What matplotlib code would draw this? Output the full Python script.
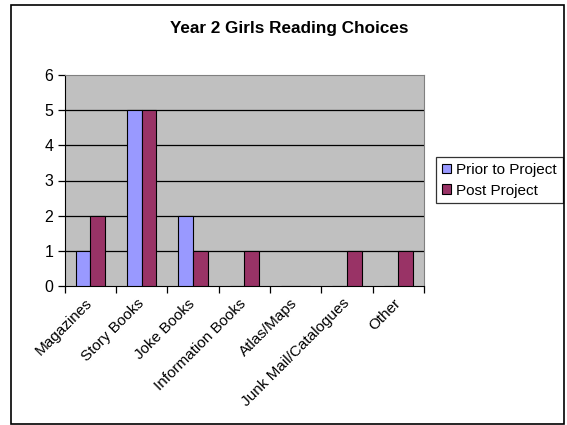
import numpy as np
import matplotlib
matplotlib.use("Agg")
import matplotlib.pyplot as plt
from matplotlib.patches import Rectangle

plt.rcParams['font.family'] = ['Liberation Sans', 'DejaVu Sans']

categories = ['Magazines', 'Story Books', 'Joke Books', 'Information Books',
              'Atlas/Maps', 'Junk Mail/Catalogues', 'Other']
prior = [1, 5, 2, 0, 0, 0, 0]
post = [2, 5, 1, 1, 0, 1, 1]
series_names = ['Prior to Project', 'Post Project']

W, H = 567, 425
fig = plt.figure(figsize=(W / 100, H / 100), dpi=100)

# outer chart border
fig.patches.append(Rectangle((10.5 / W, 1 - 423.5 / H), 553.5 / W, 419 / H,
                             transform=fig.transFigure, fill=False,
                             edgecolor='black', linewidth=1.2))

ax = fig.add_axes([64.5 / W, 1 - 286 / H, 359.5 / W, 211 / H])
ax.set_facecolor('#C0C0C0')

x = np.arange(len(categories))
bw = 1 / 3.5
ax.bar(x - bw / 2, prior, bw, color='#9999FF', edgecolor='black',
       linewidth=0.8, label=series_names[0], zorder=3)
ax.bar(x + bw / 2, post, bw, color='#993366', edgecolor='black',
       linewidth=0.8, label=series_names[1], zorder=3)

ax.set_xlim(-0.5, len(categories) - 0.5)
ax.set_ylim(0, 6)
ax.set_yticks(range(7))
for y in range(1, 6):
    ax.axhline(y, color='black', linewidth=0.9, zorder=1)

# ticks at category boundaries, labels at centres
ax.set_xticks(np.arange(len(categories) + 1) - 0.5)
ax.set_xticklabels([])
ax.set_xticks(x, minor=True)
ax.set_xticklabels(categories, minor=True, rotation=45, ha='right',
                   va='center', rotation_mode='anchor', fontsize=11)
ax.tick_params(axis='x', which='minor', length=0, pad=11)
ax.tick_params(axis='x', which='major', length=5, width=0.9, direction='out')
ax.tick_params(axis='y', length=5, width=0.9, direction='out', labelsize=11.5,
               pad=3)

ax.spines['left'].set_color('black')
ax.spines['bottom'].set_color('black')
ax.spines['top'].set_color('#808080')
ax.spines['right'].set_color('#808080')

fig.text((170 + 409) / 2 / W, 1 - 29 / H, 'Year 2 Girls Reading Choices',
         ha='center', va='center', fontsize=12.3, fontweight='bold')

leg = ax.legend(loc='upper left', bbox_to_anchor=(436 / W, 1 - 157 / H),
                bbox_transform=fig.transFigure, fontsize=11,
                frameon=True, fancybox=False, borderaxespad=0,
                handlelength=0.6, handleheight=0.6, handletextpad=0.35,
                borderpad=0.38, labelspacing=0.45)
leg.get_frame().set_edgecolor('black')
leg.get_frame().set_linewidth(0.9)

fig.savefig('out.png', dpi=100)
